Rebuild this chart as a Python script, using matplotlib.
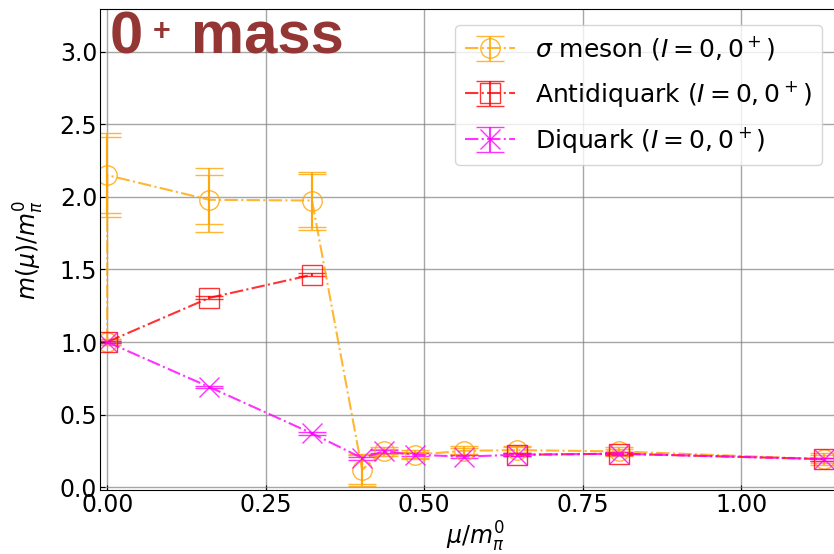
import numpy as np
import matplotlib
matplotlib.use("Agg")
import matplotlib.pyplot as plt

# mu / m_pi^0 values (shared by all series)
mu = [0.0, 0.0, 0.161, 0.323, 0.402, 0.436, 0.485, 0.563, 0.646, 0.808, 1.130]

# sigma meson (I=0, 0+)
sigma = [1.00, 2.15, 1.98, 1.975, 0.12, 0.246, 0.223, 0.25, 0.255, 0.246, 0.193]
sigma_err = [0.02, 0.29, 0.22, 0.20, 0.11, 0.03, 0.03, 0.03, 0.03, 0.03, 0.04]
sigma_err2 = [0.02, 0.26, 0.17, 0.18, 0.10, 0.02, 0.02, 0.02, 0.02, 0.02, 0.03]

# antidiquark (I=0, 0+)
antidiquark = [np.nan, 1.00, 1.304, 1.463, np.nan, np.nan, np.nan, np.nan, 0.223, 0.23, 0.193]
antidiquark_err = [0, 0.01, 0.01, 0.01, 0, 0, 0, 0, 0.01, 0.01, 0.01]

# diquark (I=0, 0+)
diquark = [np.nan, 1.00, 0.69, 0.37, 0.20, 0.246, 0.223, 0.21, 0.223, 0.23, 0.193]
diquark_err = [0, 0.01, 0.01, 0.01, 0.01, 0.01, 0.01, 0.01, 0.01, 0.01, 0.01]

W, H = 834, 554
fig = plt.figure(figsize=(W / 100, H / 100), dpi=100)
ax = fig.add_axes([100 / W, 64 / H, 750 / W, 481 / H])

ax.errorbar(mu, sigma, yerr=sigma_err, fmt='o-.', color='orange', mfc='none',
            ms=14, capsize=10, lw=1.5, alpha=0.8, label=r'$\sigma$ meson ($I=0,0^+$)')
ax.errorbar(mu, sigma, yerr=sigma_err2, fmt='none', ecolor='orange',
            capsize=10, lw=1.5, alpha=0.8)
ax.errorbar(mu, antidiquark, yerr=antidiquark_err, fmt='s-.', color='red', mfc='none',
            ms=14, capsize=10, lw=1.5, alpha=0.8, label=r'Antidiquark ($I=0,0^+$)')
ax.errorbar(mu, diquark, yerr=diquark_err, fmt='x-.', color='magenta',
            ms=14, capsize=10, lw=1.5, alpha=0.8, label=r'Diquark ($I=0,0^+$)')

ax.set_xlim(-0.0114, 1.1716)
ax.set_ylim(-0.02, 3.295)
ax.set_xticks([0.0, 0.25, 0.5, 0.75, 1.0])
ax.set_yticks([0.0, 0.5, 1.0, 1.5, 2.0, 2.5, 3.0])
ax.tick_params(direction='in', labelsize=17, pad=2)
ax.grid(True, color='gray', alpha=0.7, lw=1)

ax.set_xlabel(r'$\mu/m_\pi^0$', fontsize=17, labelpad=2)
ax.set_ylabel(r'$m(\mu)/m_\pi^0$', fontsize=17, labelpad=10)

# "0+ mass" banner, placed in figure pixels
title_color = '#943634'
fig.text(110 / W, 1 - 53 / H, '0', fontsize=43, fontweight='bold', color=title_color,
         family='Liberation Sans', va='baseline', ha='left')
fig.text(153 / W, 1 - 40 / H, '+', fontsize=22, fontweight='bold', color=title_color,
         family='Liberation Sans', va='baseline', ha='left')
fig.text(191 / W, 1 - 53 / H, 'mass', fontsize=43, fontweight='bold', color=title_color,
         family='Liberation Sans', va='baseline', ha='left')

ax.legend(loc='upper right', bbox_to_anchor=(834 / W, 1 - 12 / H),
          bbox_transform=fig.transFigure, fontsize=18, labelspacing=0.65)

fig.savefig('out.png', dpi=100)
